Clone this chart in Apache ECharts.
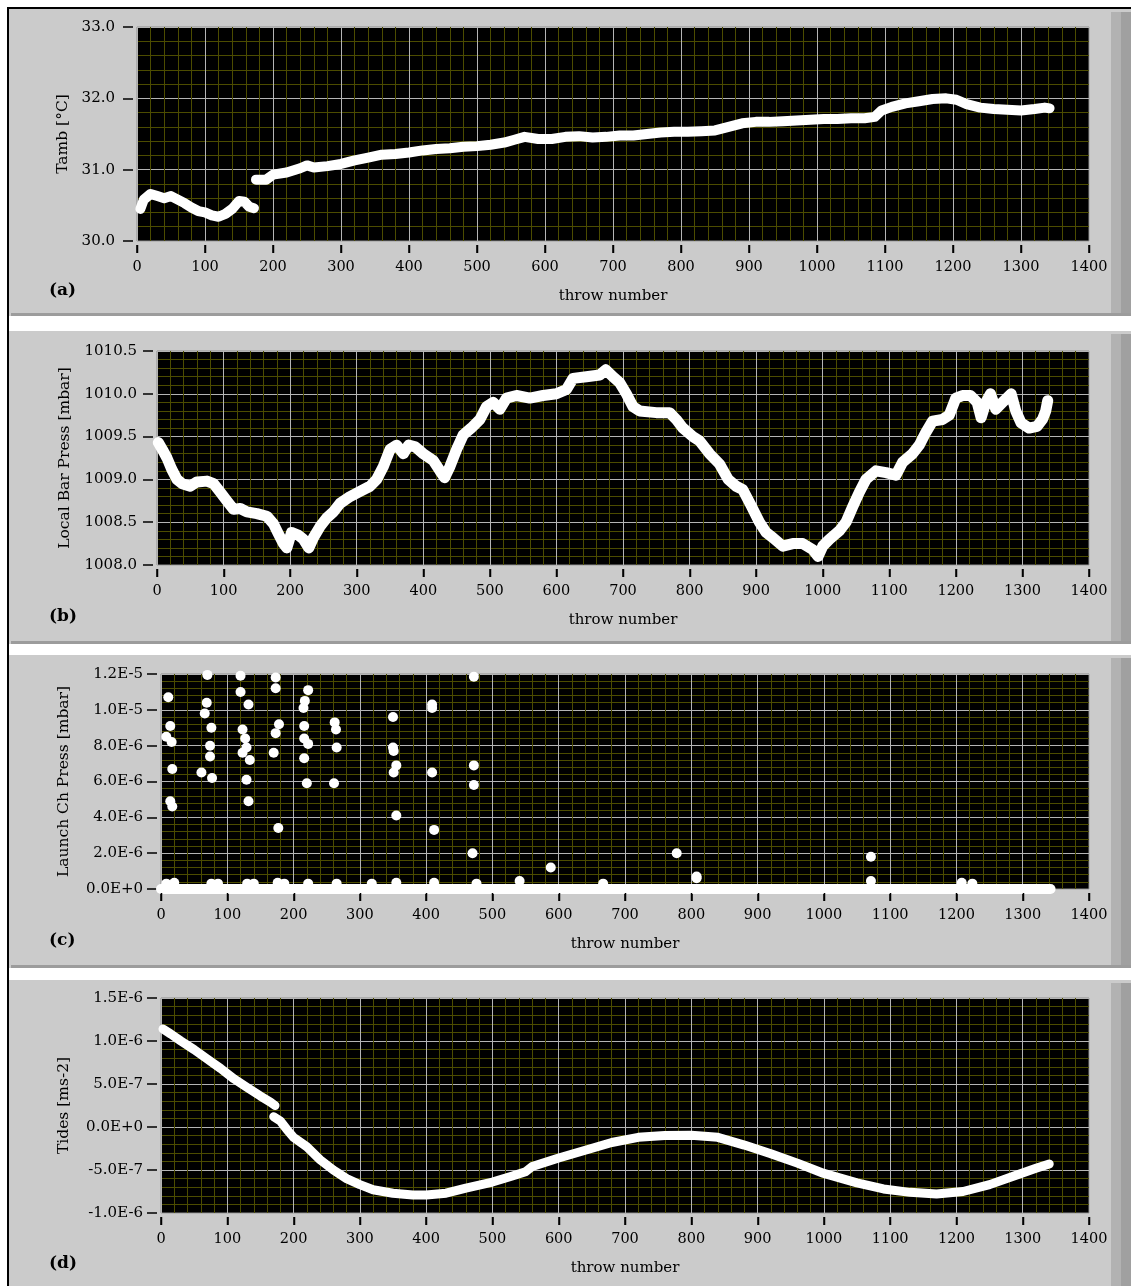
<!DOCTYPE html>
<html><head><meta charset="utf-8">
<script src="https://cdn.jsdelivr.net/npm/echarts@6/dist/echarts.min.js"></script>
<style>html,body{margin:0;padding:0;background:#fff;}#c{width:1131px;height:1286px;}</style>
</head><body><div id="c"></div>
<script>
// ---------------- DATA ----------------
const xTickMin = 0, xTickMax = 1400, xTickStep = 100;
const xTickValues = [0,100,200,300,400,500,600,700,800,900,1000,1100,1200,1300,1400];
const xName = 'throw number';
const panelLabels = ['(a)', '(b)', '(c)', '(d)'];
const yNames = ['Tamb [°C]', 'Local Bar Press [mbar]', 'Launch Ch Press [mbar]', 'Tides [ms-2]'];

// (a) ambient temperature, [throw, °C]
const tambPart1 = [[5,30.45],[10,30.58],[20,30.66],[30,30.63],[40,30.60],[50,30.63],[60,30.58],[70,30.53],[80,30.47],[90,30.42],[100,30.40],[110,30.36],[120,30.34],[130,30.38],[140,30.45],[150,30.56],[158,30.55],[165,30.48],[172,30.46]];
const tambPart2 = [[175,30.86],[190,30.86],[200,30.93],[220,30.96],[240,31.02],[250,31.06],[260,31.03],[280,31.05],[300,31.08],[320,31.13],[340,31.17],[360,31.21],[380,31.22],[400,31.24],[420,31.27],[440,31.29],[460,31.30],[480,31.32],[500,31.33],[520,31.35],[540,31.38],[555,31.42],[570,31.46],[590,31.43],[610,31.43],[630,31.46],[650,31.47],[670,31.45],[690,31.46],[710,31.48],[730,31.48],[750,31.50],[770,31.52],[790,31.53],[810,31.53],[830,31.54],[850,31.55],[870,31.60],[890,31.65],[910,31.67],[930,31.67],[950,31.68],[970,31.69],[990,31.70],[1010,31.71],[1030,31.71],[1050,31.72],[1070,31.72],[1085,31.74],[1095,31.83],[1110,31.88],[1130,31.93],[1150,31.96],[1170,31.99],[1190,32.00],[1205,31.98],[1220,31.92],[1240,31.87],[1260,31.85],[1280,31.84],[1300,31.83],[1320,31.85],[1335,31.87],[1342,31.86]];

// (b) local barometric pressure, [throw, mbar]
const barPress = [[2,1009.43],[8,1009.35],[15,1009.25],[22,1009.12],[30,1009.0],[38,1008.95],[50,1008.92],[60,1008.97],[75,1008.98],[85,1008.95],[95,1008.85],[105,1008.75],[115,1008.65],[125,1008.66],[135,1008.62],[150,1008.6],[165,1008.57],[175,1008.48],[182,1008.37],[190,1008.25],[195,1008.2],[202,1008.38],[212,1008.35],[220,1008.3],[228,1008.2],[235,1008.32],[245,1008.45],[255,1008.55],[265,1008.62],[275,1008.72],[290,1008.8],[305,1008.86],[320,1008.92],[330,1009.0],[340,1009.15],[350,1009.35],[360,1009.4],[370,1009.3],[378,1009.4],[388,1009.38],[400,1009.3],[415,1009.22],[425,1009.1],[432,1009.02],[440,1009.15],[450,1009.35],[460,1009.52],[472,1009.6],[485,1009.7],[495,1009.85],[505,1009.9],[515,1009.82],[525,1009.95],[540,1009.98],[560,1009.95],[580,1009.98],[600,1010.0],[615,1010.05],[625,1010.18],[645,1010.2],[665,1010.22],[674,1010.28],[685,1010.2],[695,1010.13],[705,1010.0],[715,1009.85],[725,1009.8],[750,1009.78],[770,1009.78],[780,1009.7],[790,1009.6],[805,1009.5],[815,1009.45],[830,1009.3],[845,1009.18],[858,1009.0],[870,1008.92],[880,1008.88],[892,1008.7],[905,1008.5],[915,1008.38],[925,1008.32],[940,1008.22],[955,1008.25],[970,1008.25],[985,1008.18],[993,1008.1],[1000,1008.22],[1010,1008.3],[1025,1008.4],[1035,1008.5],[1045,1008.68],[1055,1008.85],[1065,1009.0],[1080,1009.1],[1095,1009.08],[1110,1009.05],[1120,1009.2],[1135,1009.3],[1145,1009.4],[1155,1009.55],[1165,1009.68],[1180,1009.7],[1190,1009.75],[1200,1009.95],[1210,1009.98],[1222,1009.98],[1232,1009.9],[1238,1009.72],[1245,1009.9],[1252,1010.0],[1260,1009.82],[1270,1009.9],[1283,1010.0],[1290,1009.8],[1298,1009.66],[1310,1009.6],[1322,1009.62],[1330,1009.7],[1335,1009.8],[1338,1009.92]];

// (c) launch chamber pressure, [throw, mbar]
const launchBase = [[0,0],[1342,0]];
const launchSmall = [[8,0.3e-6],[20,0.35e-6],[76,0.3e-6],[86,0.3e-6],[130,0.3e-6],[140,0.3e-6],[176,0.35e-6],[186,0.3e-6],[222,0.3e-6],[265,0.3e-6],[318,0.3e-6],[355,0.35e-6],[412,0.35e-6],[476,0.3e-6],[541,0.45e-6],[667,0.3e-6],[808,0.7e-6],[1071,0.45e-6],[1208,0.35e-6],[1224,0.3e-6]];
const launchSpikes = [[11,10.7e-6],[14,9.1e-6],[8,8.5e-6],[16,8.2e-6],[17,6.7e-6],[14,4.9e-6],[17,4.6e-6],
  [70,11.95e-6],[69,10.4e-6],[66,9.8e-6],[76,9.0e-6],[74,8.0e-6],[74,7.4e-6],[61,6.5e-6],[77,6.2e-6],
  [120,11.9e-6],[120,11.0e-6],[132,10.3e-6],[123,8.9e-6],[127,8.4e-6],[129,7.9e-6],[123,7.6e-6],[134,7.2e-6],[129,6.1e-6],[132,4.9e-6],
  [173,11.8e-6],[173,11.2e-6],[178,9.2e-6],[173,8.7e-6],[170,7.6e-6],[177,3.4e-6],
  [222,11.1e-6],[217,10.5e-6],[215,10.1e-6],[216,9.1e-6],[216,8.4e-6],[222,8.1e-6],[216,7.3e-6],[220,5.9e-6],
  [262,9.3e-6],[264,8.9e-6],[265,7.9e-6],[261,5.9e-6],
  [350,9.6e-6],[350,7.9e-6],[351,7.7e-6],[355,6.9e-6],[351,6.5e-6],[355,4.1e-6],
  [409,10.3e-6],[409,10.1e-6],[409,6.5e-6],[412,3.3e-6],
  [472,11.85e-6],[472,6.9e-6],[472,5.8e-6],[470,2.0e-6],
  [588,1.2e-6],[778,2.0e-6],[808,0.6e-6],[1071,1.8e-6]];

// (d) tides, [throw, m s-2]
const tidesPart1 = [[3,11.4e-7],[15,10.8e-7],[30,10.0e-7],[50,9.0e-7],[70,7.9e-7],[90,6.8e-7],[110,5.6e-7],[130,4.6e-7],[150,3.6e-7],[165,2.9e-7],[172,2.5e-7]];
const tidesPart2 = [[170,1.2e-7],[180,0.7e-7],[190,-0.3e-7],[200,-1.2e-7],[220,-2.3e-7],[240,-3.8e-7],[260,-5.0e-7],[280,-6.0e-7],[300,-6.7e-7],[320,-7.3e-7],[350,-7.7e-7],[380,-7.9e-7],[400,-7.9e-7],[430,-7.7e-7],[460,-7.1e-7],[500,-6.4e-7],[530,-5.7e-7],[550,-5.2e-7],[560,-4.6e-7],[580,-4.1e-7],[600,-3.6e-7],[640,-2.7e-7],[680,-1.8e-7],[720,-1.2e-7],[760,-1.0e-7],[800,-0.95e-7],[840,-1.2e-7],[880,-2.1e-7],[920,-3.1e-7],[960,-4.2e-7],[1000,-5.4e-7],[1050,-6.5e-7],[1090,-7.2e-7],[1130,-7.6e-7],[1170,-7.8e-7],[1210,-7.5e-7],[1250,-6.7e-7],[1290,-5.6e-7],[1320,-4.8e-7],[1340,-4.3e-7]];

// y axis ranges / tick steps
const yRanges = [
  {min:30, max:33, interval:1},
  {min:1008, max:1010.5, interval:0.5},
  {min:0, max:1.2e-5, interval:2e-6},
  {min:-1e-6, max:1.5e-6, interval:5e-7}
];

// ---------------- LAYOUT ----------------
const plots = [
  {left:137, top:27, width:952, height:214, labelMargin:18, nameGap:62},
  {left:157, top:351, width:932, height:214, labelMargin:16, nameGap:80},
  {left:161, top:674, width:928, height:215, labelMargin:14, nameGap:85},
  {left:161, top:998, width:928, height:215, labelMargin:14, nameGap:85}
];
const panelsY = [[9,316],[331,644],[655,968],[980,1290]];
const panelLabelY = [291, 617, 941, 1264];

const fmt = [
  v => v.toFixed(1),
  v => v.toFixed(1),
  v => v.toExponential(1).toUpperCase(),
  v => v.toExponential(1).toUpperCase()
];

const FONT = 'DejaVu Serif';
const grids = plots.map(p => ({
  left:p.left, top:p.top, width:p.width, height:p.height,
  show:true, backgroundColor:'#000', borderColor:'#8c8c8c', borderWidth:1
}));

const xAxes = plots.map((p,i) => ({
  type:'value', gridIndex:i, min:xTickMin, max:xTickMax, interval:xTickStep,
  offset:4,
  axisLine:{show:true, onZero:false, lineStyle:{color:'rgba(0,0,0,0)'}},
  axisTick:{show:true, inside:false, length:8, lineStyle:{color:'#000', width:1.5}},
  axisLabel:{color:'#000', fontFamily:FONT, fontSize:14.5, margin:15, formatter:v => String(v)},
  splitLine:{show:true, lineStyle:{color:'#b4b4b4', width:1}},
  minorTick:{show:false, splitNumber:5},
  minorSplitLine:{show:true, lineStyle:{color:'#4c4c00', width:1}},
  name:xName, nameLocation:'middle', nameGap:44,
  nameTextStyle:{color:'#000', fontFamily:FONT, fontSize:15}
}));

const yAxes = plots.map((p,i) => ({
  type:'value', gridIndex:i, min:yRanges[i].min, max:yRanges[i].max, interval:yRanges[i].interval,
  offset:4,
  axisLine:{show:true, onZero:false, lineStyle:{color:'rgba(0,0,0,0)'}},
  axisTick:{show:true, inside:false, length:10, lineStyle:{color:'#000', width:1.5}},
  axisLabel:{color:'#000', fontFamily:FONT, fontSize:15, margin:p.labelMargin, formatter:fmt[i]},
  splitLine:{show:true, lineStyle:{color:'#b4b4b4', width:1}},
  minorTick:{show:false, splitNumber:5},
  minorSplitLine:{show:true, lineStyle:{color:'#4c4c00', width:1}},
  name:yNames[i], nameLocation:'middle', nameGap:p.nameGap, nameRotate:90,
  nameTextStyle:{color:'#000', fontFamily:FONT, fontSize:15.5}
}));

function band(data, idx, width){
  return {type:'line', xAxisIndex:idx, yAxisIndex:idx, data:data, showSymbol:false,
    lineStyle:{color:'#fff', width:width, cap:'round', join:'round'}, clip:true, z:5};
}
function dots(data, idx){
  return {type:'scatter', xAxisIndex:idx, yAxisIndex:idx, data:data, symbol:'circle', symbolSize:10,
    itemStyle:{color:'#fff', opacity:1}, z:5};
}
// x tick marks below each plot, placed through the axis scale at each tick value
function xTickMarks(idx){
  return {type:'custom', xAxisIndex:idx, yAxisIndex:idx, clip:false, silent:true, z:20,
    data:xTickValues.map(v => [v, yRanges[idx].min]),
    renderItem:(params, api) => {
      const p = api.coord([api.value(0), api.value(1)]);
      const x = Math.round(p[0]) + 0.5;
      return {type:'line', shape:{x1:x, y1:p[1]+4, x2:x, y2:p[1]+12},
        style:{stroke:'#000', lineWidth:1.5}};
    }};
}

const series = [
  band(tambPart1, 0, 10),
  band(tambPart2, 0, 10),
  band(barPress, 1, 11),
  band(launchBase, 2, 10),
  dots(launchSmall, 2),
  dots(launchSpikes, 2),
  band(tidesPart1, 3, 9),
  band(tidesPart2, 3, 9),
  xTickMarks(0), xTickMarks(1), xTickMarks(2), xTickMarks(3)
];

const graphic = [
  {type:'rect', z:-100, shape:{x:7,y:7,width:1124,height:1279}, style:{fill:'#000'}},
  {type:'rect', z:-99, shape:{x:9,y:9,width:1122,height:1277}, style:{fill:'#fff'}}
];
panelsY.forEach((py,i) => {
  const h = py[1]-py[0];
  graphic.push({type:'rect', z:-98, shape:{x:9,y:py[0],width:1122,height:h}, style:{fill:'#cbcbcb'}});
  graphic.push({type:'rect', z:-97, shape:{x:11,y:py[1]-3,width:1120,height:3}, style:{fill:'#9c9c9c'}});
  graphic.push({type:'rect', z:-97, shape:{x:1111,y:py[0]+3,width:10,height:h-6}, style:{fill:'#b2b2b2'}});
  graphic.push({type:'rect', z:-97, shape:{x:1121,y:py[0]+3,width:10,height:h-6}, style:{fill:'#a0a0a0'}});
  graphic.push({type:'text', z:10, x:49, y:panelLabelY[i],
    style:{text:panelLabels[i], font:'bold 17px "DejaVu Serif"', fill:'#000', verticalAlign:'middle', align:'left'}});
});

const chart = echarts.init(document.getElementById('c'), null, {renderer:'canvas'});
chart.setOption({
  animation:false,
  backgroundColor:'#fff',
  grid:grids, xAxis:xAxes, yAxis:yAxes, series:series, graphic:graphic
});
</script></body></html>
